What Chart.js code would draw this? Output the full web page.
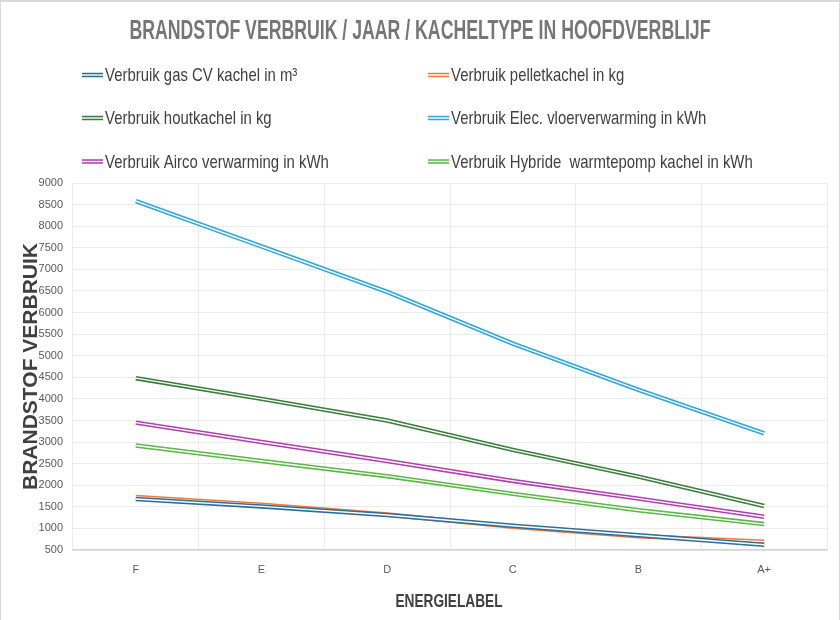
<!DOCTYPE html>
<html>
<head>
<meta charset="utf-8">
<script src="https://cdn.jsdelivr.net/npm/chart.js@4.4.1/dist/chart.umd.min.js"></script>
<style>
  html, body { margin: 0; padding: 0; background: #ffffff; }
  #wrap { position: relative; width: 840px; height: 620px; box-sizing: border-box;
          border-top: 2px solid #d9d9d9; border-left: 1px solid #d9d9d9; border-right: 1px solid #d9d9d9; }
  canvas { display: block; }
</style>
</head>
<body>
<div id="wrap"><canvas id="c" width="838" height="618"></canvas></div>
<script>
const categories = ["F", "E", "D", "C", "B", "A+"];
const gasCV      = [1680, 1510, 1310, 1060, 840, 620];
const pellet     = [1730, 1550, 1320, 1040, 820, 690];
const hout       = [4480, 4000, 3500, 2820, 2200, 1520];
const elec       = [8580, 7530, 6480, 5280, 4210, 3200];
const airco      = [3450, 3000, 2560, 2100, 1690, 1270];
const hybride    = [2920, 2560, 2210, 1800, 1420, 1100];

const seriesNames = [
  "Verbruik gas CV kachel in m³",
  "Verbruik pelletkachel in kg",
  "Verbruik houtkachel in kg",
  "Verbruik Elec. vloerverwarming in kWh",
  "Verbruik Airco verwarming in kWh",
  "Verbruik Hybride  warmtepomp kachel in kWh"
];
const seriesData = [gasCV, pellet, hout, elec, airco, hybride];
const seriesColors = ["#2f6e96", "#f07a3c", "#3a7d3a", "#2ea6de", "#b040b0", "#5cb845"];

const chartTitle = 'BRANDSTOF VERBRUIK / JAAR / KACHELTYPE IN HOOFDVERBLIJF';
const xTitle = 'ENERGIELABEL';
const yTitle = 'BRANDSTOF VERBRUIK';

const SANS = '"Liberation Sans", Arial, sans-serif';

// draw text squeezed horizontally (condensed look)
function squeezedText(ctx, text, x, y, font, color, sx, align) {
  ctx.save();
  ctx.font = font;
  ctx.fillStyle = color;
  ctx.textBaseline = 'middle';
  ctx.textAlign = align;
  ctx.translate(x, y);
  ctx.scale(sx, 1);
  ctx.fillText(text, 0, 0);
  ctx.restore();
}

// white centre stripe to create the double-line look
const doubleLine = {
  id: 'doubleLine',
  afterDatasetDraw(chart, args) {
    const pts = args.meta.data;
    if (!pts.length) return;
    const ctx = chart.ctx;
    ctx.save();
    ctx.beginPath();
    ctx.moveTo(pts[0].x, pts[0].y);
    for (let i = 1; i < pts.length; i++) ctx.lineTo(pts[i].x, pts[i].y);
    ctx.strokeStyle = '#ffffff';
    ctx.lineWidth = 1.4;
    ctx.lineJoin = 'round';
    ctx.stroke();
    ctx.restore();
  }
};

// title, two-column legend and x-axis title in condensed style
const decorations = {
  id: 'decorations',
  afterDraw(chart) {
    const ctx = chart.ctx;
    squeezedText(ctx, chartTitle, 419, 30, 'bold 27px ' + SANS, '#767676', 0.655, 'center');

    const cols = [81, 427];
    const rows = [73, 116, 159.5];
    chart.data.datasets.forEach((ds, i) => {
      const x = cols[i % 2];
      const y = rows[Math.floor(i / 2)];
      ctx.save();
      ctx.lineCap = 'butt';
      ctx.beginPath();
      ctx.moveTo(x, y); ctx.lineTo(x + 21, y);
      ctx.strokeStyle = ds.borderColor; ctx.lineWidth = 4.5; ctx.stroke();
      ctx.beginPath();
      ctx.moveTo(x, y); ctx.lineTo(x + 21, y);
      ctx.strokeStyle = '#ffffff'; ctx.lineWidth = 1.4; ctx.stroke();
      ctx.restore();
      squeezedText(ctx, ds.label, x + 23, y + 1, '19px ' + SANS, '#404040', 0.785, 'left');
    });

    squeezedText(ctx, xTitle, 448, 600, 'bold 19px ' + SANS, '#404040', 0.72, 'center');
  }
};

new Chart(document.getElementById('c'), {
  type: 'line',
  data: {
    labels: categories,
    datasets: seriesNames.map((name, i) => ({
      label: name,
      data: seriesData[i],
      borderColor: seriesColors[i],
      backgroundColor: seriesColors[i],
      borderWidth: 4.5,
      pointRadius: 0,
      pointHoverRadius: 0,
      tension: 0,
      fill: false
    }))
  },
  options: {
    responsive: false,
    animation: false,
    devicePixelRatio: 1,
    layout: { padding: { left: 0, right: 12, top: 181, bottom: 6 } },
    plugins: {
      legend: { display: false },
      tooltip: { enabled: false },
      title: { display: false }
    },
    scales: {
      x: {
        offset: true,
        grid: { offset: true, color: '#ebebeb', lineWidth: 1, drawTicks: false },
        border: { color: '#d4d4d4', width: 1.5 },
        ticks: { color: '#595959', font: { family: SANS, size: 11 }, padding: 13 },
        title: { display: false },
        afterFit(s) { s.height = 64; }
      },
      y: {
        min: 500, max: 9000,
        grid: { color: '#ebebeb', lineWidth: 1, drawTicks: false },
        border: { display: false },
        ticks: {
          stepSize: 500, color: '#595959', font: { family: SANS, size: 11 }, padding: 10,
          callback: (v) => String(v)
        },
        title: {
          display: true, text: yTitle, color: '#404040',
          font: { family: SANS, size: 21, weight: 'bold' },
          padding: { top: 18, bottom: 0 }
        },
        afterFit(s) { s.width = 72; }
      }
    }
  },
  plugins: [doubleLine, decorations]
});
</script>
</body>
</html>
